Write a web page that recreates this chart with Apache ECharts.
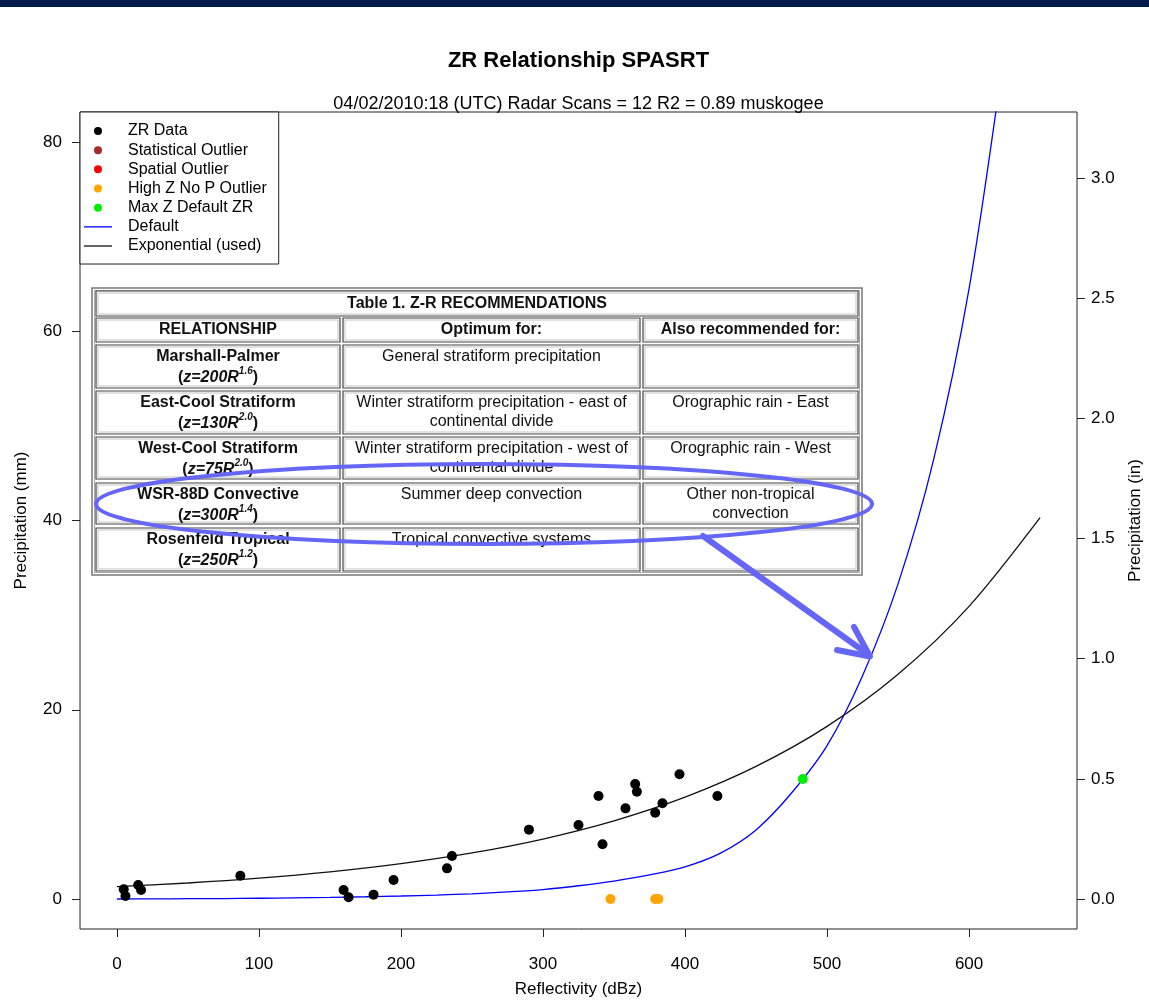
<!DOCTYPE html>
<html>
<head>
<meta charset="utf-8">
<title>ZR Relationship SPASRT</title>
<script src="https://cdn.jsdelivr.net/npm/echarts@6/dist/echarts.min.js"></script>
<style>
  html, body { margin: 0; padding: 0; background: #fff; }
  #chart { width: 1149px; height: 1000px; }
</style>
</head>
<body>
<div id="chart"></div>
<script>
// ---- Gauge/radar pairs (reflectivity vs. precipitation in mm) ----
const zrDataX = [4.8, 6.0, 15.0, 17.0, 86.9, 159.6, 163.1, 180.7, 194.8, 232.4, 235.9, 290.1,
                 325.0, 339.1, 341.9, 358.1, 364.9, 366.1, 379.0, 384.1, 396.1, 422.8];
const zrDataY = [1.02, 0.31, 1.48, 0.95, 2.46, 0.95, 0.18, 0.46, 2.0, 3.24, 4.54, 7.33,
                 7.82, 10.88, 5.78, 9.58, 12.15, 11.34, 9.12, 10.11, 13.18, 10.88];

const statOutlierX = [];
const statOutlierY = [];
const spatialOutlierX = [];
const spatialOutlierY = [];

const highZNoPX = [347.5, 379.0, 381.3];
const highZNoPY = [0, 0, 0];

const maxZDefaultX = [482.9];
const maxZDefaultY = [12.68];

// ---- Fitted curves ----
const defaultCurveX = [0, 25, 50, 75, 100, 125, 150, 175, 200, 225, 250, 275, 300, 325, 350,
                       375, 400, 425, 450, 475, 500, 525, 550, 575, 600, 625];
const defaultCurveY = [0, 0.01, 0.03, 0.05, 0.08, 0.12, 0.17, 0.24, 0.32, 0.42, 0.55, 0.75, 1.0, 1.4, 1.9,
                       2.55, 3.4, 4.85, 7.3, 11.2, 16.2, 23.6, 33.3, 46.4, 64.5, 89.8];

const expCurveX = [0, 50, 100, 150, 200, 250, 300, 350, 400, 450, 500, 550, 600, 650];
const expCurveY = [1.3, 1.69, 2.2, 2.87, 3.74, 4.87, 6.34, 8.26, 10.76, 14.01, 18.24, 23.75, 30.93, 40.3];

// ---- Axis ticks ----
const xTicks = [0, 100, 200, 300, 400, 500, 600];
const mmTicks = [0, 20, 40, 60, 80];
const inchTicks = [0, 0.5, 1.0, 1.5, 2.0, 2.5, 3.0];

// ---- Z-R recommendation table ----
const tableTitle = 'Table 1. Z-R RECOMMENDATIONS';
const tableHeaders = ['RELATIONSHIP', 'Optimum for:', 'Also recommended for:'];
const zrNames = ['Marshall-Palmer', 'East-Cool Stratiform', 'West-Cool Stratiform', 'WSR-88D Convective', 'Rosenfeld Tropical'];
const zrCoef = ['200', '130', '75', '300', '250'];
const zrExp = ['1.6', '2.0', '2.0', '1.4', '1.2'];
const zrOptimum = [
  ['General stratiform precipitation'],
  ['Winter stratiform precipitation - east of', 'continental divide'],
  ['Winter stratiform precipitation - west of', 'continental divide'],
  ['Summer deep convection'],
  ['Tropical convective systems']
];
const zrAlso = [
  [],
  ['Orographic rain - East'],
  ['Orographic rain - West'],
  ['Other non-tropical', 'convection'],
  []
];

const FONT = "'Liberation Sans', Arial, Helvetica, sans-serif";
const MM_PER_IN = 25.4;
const mmMin = -3.17, mmMax = 83.17;
const LINE_ICON = 'path://M0,0H28V1.3H0Z';

function pairs(xs, ys) { return xs.map((x, i) => [x, ys[i]]); }

// ---- Table drawing (graphic elements) ----
function buildTable() {
  const els = [];
  const cols = [[96, 340], [343, 640], [643, 858]];
  const rows = [[345, 388], [391, 434], [437, 479], [483, 524], [528, 571]];
  const z = 50;
  const cell = (x0, y0, x1, y1) => {
    els.push({ type: 'rect', z: z, shape: { x: x0, y: y0, width: x1 - x0, height: y1 - y0 },
      style: { fill: '#fff', stroke: '#444', lineWidth: 1.2 } });
    els.push({ type: 'rect', z: z, shape: { x: x0 + 2, y: y0 + 2, width: x1 - x0 - 4, height: y1 - y0 - 4 },
      style: { fill: 'none', stroke: '#c4c4c4', lineWidth: 1 } });
  };
  const txt = (s, cx, cy, bold) => {
    els.push({ type: 'text', z: z + 1, x: cx, y: cy,
      style: { text: s, fill: '#111', font: (bold ? 'bold ' : '') + '16px ' + FONT,
               textAlign: 'center', textVerticalAlign: 'middle' } });
  };
  // outer frame
  els.push({ type: 'rect', z: z, shape: { x: 92, y: 288, width: 770, height: 287 },
    style: { fill: '#fff', stroke: '#777', lineWidth: 1.5 } });
  els.push({ type: 'rect', z: z, shape: { x: 94.5, y: 290.5, width: 765, height: 282 },
    style: { fill: 'none', stroke: '#aaa', lineWidth: 1 } });
  // title row
  cell(96, 291, 858, 316);
  txt(tableTitle, 477, 303.5, true);
  // header row
  tableHeaders.forEach((h, c) => {
    cell(cols[c][0], 318, cols[c][1], 342);
    txt(h, (cols[c][0] + cols[c][1]) / 2, 330, true);
  });
  // body rows
  rows.forEach((r, i) => {
    cols.forEach(c => cell(c[0], r[0], c[1], r[1]));
    const l1 = r[0] + 12, l2 = r[0] + 31;
    const c0 = (cols[0][0] + cols[0][1]) / 2;
    txt(zrNames[i], c0, l1, true);
    els.push({ type: 'text', z: z + 1, x: c0, y: l2 - 10,
      style: {
        text: '{p|(}{i|z=' + zrCoef[i] + 'R}{s|' + zrExp[i] + '}{p|)}',
        textAlign: 'center', textVerticalAlign: 'top', fill: '#111',
        rich: {
          p: { fontFamily: FONT, fontSize: 16, fontWeight: 'bold', lineHeight: 20, verticalAlign: 'bottom', fill: '#111' },
          i: { fontFamily: FONT, fontSize: 16, fontWeight: 'bold', fontStyle: 'italic', lineHeight: 20, verticalAlign: 'bottom', fill: '#111' },
          s: { fontFamily: FONT, fontSize: 10, fontWeight: 'bold', fontStyle: 'italic', lineHeight: 11, verticalAlign: 'top', fill: '#111' }
        }
      } });
    zrOptimum[i].forEach((s, k) => txt(s, (cols[1][0] + cols[1][1]) / 2, k ? l2 : l1, false));
    zrAlso[i].forEach((s, k) => txt(s, (cols[2][0] + cols[2][1]) / 2, k ? l2 : l1, false));
  });
  return els;
}

// ---- Highlight ellipse and arrow ----
const HL = '#6666f6';
const highlight = [
  { type: 'ellipse', z: 80, shape: { cx: 484, cy: 504, rx: 388, ry: 40 },
    style: { fill: 'none', stroke: HL, lineWidth: 4 } },
  { type: 'polyline', z: 80, shape: { points: [[703, 536], [869, 655]] },
    style: { stroke: HL, lineWidth: 6, lineCap: 'round' } },
  { type: 'polyline', z: 80, shape: { points: [[837, 650], [870, 656.5], [854, 627]] },
    style: { fill: 'none', stroke: HL, lineWidth: 6, lineCap: 'round', lineJoin: 'round' } }
];

const chart = echarts.init(document.getElementById('chart'), null, { renderer: 'canvas' });

const axisTextStyle = { fontFamily: FONT, fontSize: 17, color: '#000' };
const tickStyle = { color: '#222', width: 1 };

chart.setOption({
  animation: false,
  backgroundColor: '#fff',
  textStyle: { fontFamily: FONT },
  title: [
    { text: 'ZR Relationship SPASRT', left: 578.5, top: 50, textAlign: 'center', padding: 0,
      textStyle: { fontFamily: FONT, fontSize: 22, fontWeight: 'bold', color: '#000' } },
    { text: '04/02/2010:18 (UTC) Radar Scans = 12 R2 = 0.89 muskogee', left: 578.5, top: 95, textAlign: 'center', padding: 0,
      textStyle: { fontFamily: FONT, fontSize: 18, fontWeight: 'normal', color: '#000' } }
  ],
  grid: {
    left: 80, top: 112, width: 997, height: 817,
    show: true, borderColor: '#222', borderWidth: 1, backgroundColor: 'transparent',
    containLabel: false, outerBoundsMode: 'none'
  },
  legend: {
    orient: 'vertical', left: 80, top: 112,
    padding: [9.5, 12, 8.5, 4],
    itemWidth: 28, itemHeight: 8, itemGap: 0.17,
    backgroundColor: '#fff', borderColor: '#222', borderWidth: 1, borderRadius: 0,
    textStyle: { fontFamily: FONT, fontSize: 16, color: '#000', lineHeight: 19, padding: [0, 0, 0, 11] },
    selectedMode: false,
    data: [
      { name: 'ZR Data', icon: 'circle' },
      { name: 'Statistical Outlier', icon: 'circle' },
      { name: 'Spatial Outlier', icon: 'circle' },
      { name: 'High Z No P Outlier', icon: 'circle' },
      { name: 'Max Z Default ZR', icon: 'circle' },
      { name: 'Default', icon: LINE_ICON },
      { name: 'Exponential (used)', icon: LINE_ICON }
    ],
    z: 20
  },
  xAxis: {
    type: 'value', min: -26, max: 676,
    name: 'Reflectivity (dBz)', nameLocation: 'middle', nameGap: 52, nameTextStyle: axisTextStyle,
    axisLine: { show: false, onZero: false },
    axisTick: { show: true, length: 8, customValues: xTicks, lineStyle: tickStyle },
    axisLabel: { customValues: xTicks, margin: 27, ...axisTextStyle },
    splitLine: { show: false }
  },
  yAxis: [
    {
      type: 'value', position: 'left', min: mmMin, max: mmMax,
      name: 'Precipitation (mm)', nameLocation: 'middle', nameGap: 50, nameRotate: 90, nameTextStyle: axisTextStyle,
      axisLine: { show: false, onZero: false },
      axisTick: { show: true, length: 8, customValues: mmTicks, lineStyle: tickStyle },
      axisLabel: { customValues: mmTicks, margin: 18, ...axisTextStyle },
      splitLine: { show: false }
    },
    {
      type: 'value', position: 'right', min: mmMin / MM_PER_IN, max: mmMax / MM_PER_IN,
      name: 'Precipitation (in)', nameLocation: 'middle', nameGap: 50, nameRotate: 90, nameTextStyle: axisTextStyle,
      axisLine: { show: false, onZero: false },
      axisTick: { show: true, length: 8, customValues: inchTicks, lineStyle: tickStyle },
      axisLabel: { customValues: inchTicks, margin: 14, formatter: v => v.toFixed(1), ...axisTextStyle },
      splitLine: { show: false }
    }
  ],
  series: [
    { name: 'ZR Data', type: 'scatter', data: pairs(zrDataX, zrDataY), symbolSize: 10,
      itemStyle: { color: '#000', opacity: 1 }, z: 5 },
    { name: 'Statistical Outlier', type: 'scatter', data: pairs(statOutlierX, statOutlierY), symbolSize: 10,
      itemStyle: { color: '#a52a2a', opacity: 1 }, z: 5 },
    { name: 'Spatial Outlier', type: 'scatter', data: pairs(spatialOutlierX, spatialOutlierY), symbolSize: 10,
      itemStyle: { color: '#ff0000', opacity: 1 }, z: 5 },
    { name: 'High Z No P Outlier', type: 'scatter', data: pairs(highZNoPX, highZNoPY), symbolSize: 10,
      itemStyle: { color: '#ffa500', opacity: 1 }, z: 5 },
    { name: 'Max Z Default ZR', type: 'scatter', data: pairs(maxZDefaultX, maxZDefaultY), symbolSize: 10,
      itemStyle: { color: '#00ee00', opacity: 1 }, z: 6 },
    { name: 'Default', type: 'line', data: pairs(defaultCurveX, defaultCurveY), smooth: 0.3,
      symbol: 'none', lineStyle: { color: '#0000ff', width: 1.3 }, itemStyle: { color: '#0000ff' }, z: 3 },
    { name: 'Exponential (used)', type: 'line', data: pairs(expCurveX, expCurveY), smooth: 0.3,
      symbol: 'none', lineStyle: { color: '#111', width: 1.3 }, itemStyle: { color: '#111' }, z: 3 }
  ],
  graphic: [
    { type: 'rect', z: 100, shape: { x: 0, y: 0, width: 1149, height: 7 }, style: { fill: '#03194a' } },
    ...buildTable(),
    ...highlight
  ]
});
</script>
</body>
</html>
